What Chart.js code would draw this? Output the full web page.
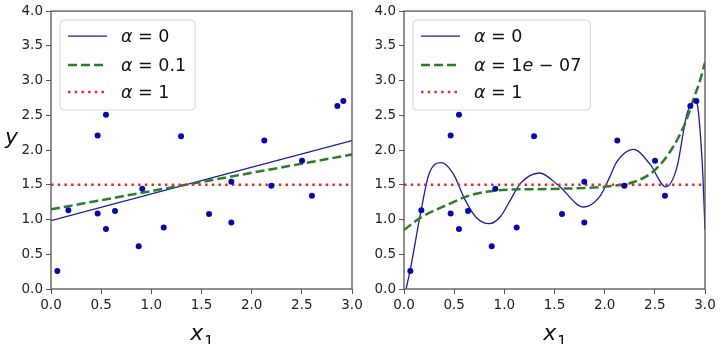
<!DOCTYPE html>
<html>
<head>
<meta charset="utf-8">
<script src="https://cdn.jsdelivr.net/npm/chart.js@4"></script>
<style>
  body { margin: 0; background: #fff; width: 726px; height: 344px; position: relative; overflow: hidden; }
  canvas { position: absolute; top: 0; }
  #left { left: 0; }
  #right { left: 363px; }
</style>
</head>
<body>
<canvas id="left" width="363" height="344"></canvas>
<canvas id="right" width="363" height="344"></canvas>
<script>
// training points (same in both panels)
const pointsX = [0.063, 0.173, 0.465, 0.465, 0.548, 0.548, 0.638, 0.874, 0.910, 1.123,
                 1.296, 1.575, 1.797, 1.797, 2.126, 2.196, 2.502, 2.601, 2.854, 2.914];
const pointsY = [0.258, 1.133, 1.085, 2.208, 2.509, 0.865, 1.123, 0.617, 1.443, 0.884,
                 2.198, 1.080, 1.544, 0.956, 2.136, 1.486, 1.845, 1.343, 2.633, 2.705];

// left panel: plain linear models
const leftA0X = [0, 3];
const leftA0Y = [0.984, 2.136];
const leftA01X = [0, 3];
const leftA01Y = [1.147, 1.935];
const leftA1X = [0, 3];
const leftA1Y = [1.5, 1.5];
const leftLabels = ['α = 0', 'α = 0.1', 'α = 1'];

// right panel: polynomial models
const rightA0X = [0, 0.06, 0.17, 0.25, 0.375, 0.49, 0.61, 0.72, 0.85, 0.96, 1.06, 1.16, 1.35,
                  1.54, 1.79, 1.95, 2.05, 2.12, 2.29, 2.45, 2.61, 2.72, 2.82, 2.90, 2.93, 2.96, 2.98, 3.0];
const rightA0Y = [-0.13, 0.26, 1.13, 1.66, 1.82, 1.66, 1.28, 1.03, 0.94, 1.04, 1.28, 1.52, 1.67,
                  1.49, 1.18, 1.33, 1.61, 1.83, 2.01, 1.80, 1.47, 1.75, 2.52, 2.72, 2.60, 2.10, 1.60, 0.85];
const rightA1e7X = [0, 0.17, 0.46, 0.62, 0.82, 1.06, 1.45, 2.05, 2.29, 2.50, 2.68, 2.80, 2.88, 2.95, 3.0];
const rightA1e7Y = [0.85, 1.03, 1.23, 1.33, 1.40, 1.43, 1.44, 1.48, 1.54, 1.71, 2.04, 2.38, 2.71, 3.0, 3.26];
const rightA1X = [0, 3];
const rightA1Y = [1.5, 1.5];
const rightLabels = ['α = 0', 'α = 1e − 07', 'α = 1'];

const xTicks = [0, 0.5, 1, 1.5, 2, 2.5, 3];
const yTicks = [0, 0.5, 1, 1.5, 2, 2.5, 3, 3.5, 4];

Chart.defaults.font.family = 'DejaVu Sans';
Chart.defaults.color = '#222';

const pairs = (xs, ys) => xs.map((x, i) => ({ x: x, y: ys[i] }));

const blueStyle = { borderColor: '#1c1c9e', borderWidth: 1.3, borderDash: [] };
const greenStyle = { borderColor: '#2a7d2a', borderWidth: 2.5, borderDash: [9, 4] };
const redStyle = { borderColor: '#d83030', borderWidth: 2.5, borderDash: [2.5, 4.2] };

// draws a mathtext-ish string: letters italic, the rest upright
function drawMath(ctx, str, x, y, size) {
  let cx = x;
  for (const ch of str) {
    const it = /[a-zα-ω]/.test(ch);
    ctx.font = (it ? 'italic ' : '') + size + 'px "DejaVu Sans"';
    ctx.fillText(ch, cx, y);
    cx += ctx.measureText(ch).width;
  }
  return cx - x;
}
function mathWidth(ctx, str, size) {
  let w = 0;
  for (const ch of str) {
    const it = /[a-zα-ω]/.test(ch);
    ctx.font = (it ? 'italic ' : '') + size + 'px "DejaVu Sans"';
    w += ctx.measureText(ch).width;
  }
  return w;
}

const decor = {
  id: 'decor',
  afterDatasetsDraw(chart, args, opts) {
    const ctx = chart.ctx;
    const a = chart.chartArea;
    ctx.save();
    // full frame
    ctx.strokeStyle = '#555';
    ctx.lineWidth = 1.3;
    ctx.strokeRect(a.left, a.top, a.width, a.height);

    // legend box
    const size = 17.5;
    const bx = a.left + 9, by = a.top + 9;
    const lines = chart.data.datasets.filter(d => d.legendText);
    let tw = 0;
    lines.forEach(d => { tw = Math.max(tw, mathWidth(ctx, d.legendText, size)); });
    const bw = 61 + tw + 9, bh = 90;
    ctx.beginPath();
    ctx.roundRect(bx, by, bw, bh, 4);
    ctx.fillStyle = 'rgba(255,255,255,0.85)';
    ctx.fill();
    ctx.strokeStyle = '#d4d4d4';
    ctx.lineWidth = 1;
    ctx.stroke();
    const rowY = [by + 16, by + 45, by + 72];
    lines.forEach((d, i) => {
      ctx.beginPath();
      ctx.strokeStyle = d.borderColor;
      ctx.lineWidth = d.borderWidth;
      ctx.setLineDash(d.borderDash || []);
      ctx.moveTo(bx + 8, rowY[i]);
      ctx.lineTo(bx + 47, rowY[i]);
      ctx.stroke();
      ctx.setLineDash([]);
      ctx.fillStyle = '#111';
      ctx.textBaseline = 'middle';
      drawMath(ctx, d.legendText, bx + 61, rowY[i] + 1, size);
    });

    // axis labels
    ctx.textBaseline = 'alphabetic';
    ctx.fillStyle = '#111';
    const cx = (a.left + a.right) / 2;
    ctx.font = 'italic 22px "DejaVu Sans"';
    const xw = ctx.measureText('x').width;
    ctx.font = '15px "DejaVu Sans"';
    const sw = ctx.measureText('1').width;
    const sx = cx - (xw + sw) / 2;
    ctx.font = 'italic 22px "DejaVu Sans"';
    ctx.fillText('x', sx, 340);
    ctx.font = '15px "DejaVu Sans"';
    ctx.fillText('1', sx + xw + 1, 347);
    if (opts.yLabel) {
      ctx.font = 'italic 22px "DejaVu Sans"';
      ctx.fillText('y', 5, 144);
    }
    ctx.restore();
  }
};

function makeChart(id, lineSets, labels, yWidth, padRight, yLabel) {
  const datasets = [
    {
      data: pairs(pointsX, pointsY),
      showLine: false,
      pointRadius: 3,
      pointBackgroundColor: '#0707a8',
      pointBorderWidth: 0,
      order: 0
    }
  ];
  const styles = [blueStyle, greenStyle, redStyle];
  lineSets.forEach((s, i) => {
    datasets.push(Object.assign({
      data: pairs(s[0], s[1]),
      legendText: labels[i],
      pointRadius: 0,
      fill: false,
      cubicInterpolationMode: 'monotone',
      borderCapStyle: 'butt',
      order: 3 - i
    }, styles[i]));
  });
  return new Chart(document.getElementById(id), {
    type: 'line',
    data: { datasets: datasets },
    options: {
      responsive: false,
      animation: false,
      layout: { padding: { top: 10, right: padRight, left: 0, bottom: 0 } },
      plugins: { legend: { display: false }, tooltip: { enabled: false }, decor: { yLabel: yLabel } },
      scales: {
        x: {
          type: 'linear', min: 0, max: 3,
          afterBuildTicks: s => { s.ticks = xTicks.map(v => ({ value: v })); },
          afterFit: s => { s.height = 55; s.paddingLeft = 0; s.paddingRight = 0; },
          border: { display: false },
          grid: { drawOnChartArea: false, drawTicks: true, tickLength: 5, tickColor: '#555' },
          ticks: { padding: 3, font: { size: 13.5 }, callback: v => v.toFixed(1), maxRotation: 0 }
        },
        y: {
          type: 'linear', min: 0, max: 4,
          afterBuildTicks: s => { s.ticks = yTicks.map(v => ({ value: v })); },
          afterFit: s => { s.width = yWidth; },
          border: { display: false },
          grid: { drawOnChartArea: false, drawTicks: true, tickLength: 5, tickColor: '#555' },
          ticks: { padding: 3, font: { size: 13.5 }, callback: v => v.toFixed(1) }
        }
      }
    },
    plugins: [decor]
  });
}

makeChart('left', [[leftA0X, leftA0Y], [leftA01X, leftA01Y], [leftA1X, leftA1Y]], leftLabels, 51, 11, true);
makeChart('right', [[rightA0X, rightA0Y], [rightA1e7X, rightA1e7Y], [rightA1X, rightA1Y]], rightLabels, 41, 21, false);
</script>
</body>
</html>
